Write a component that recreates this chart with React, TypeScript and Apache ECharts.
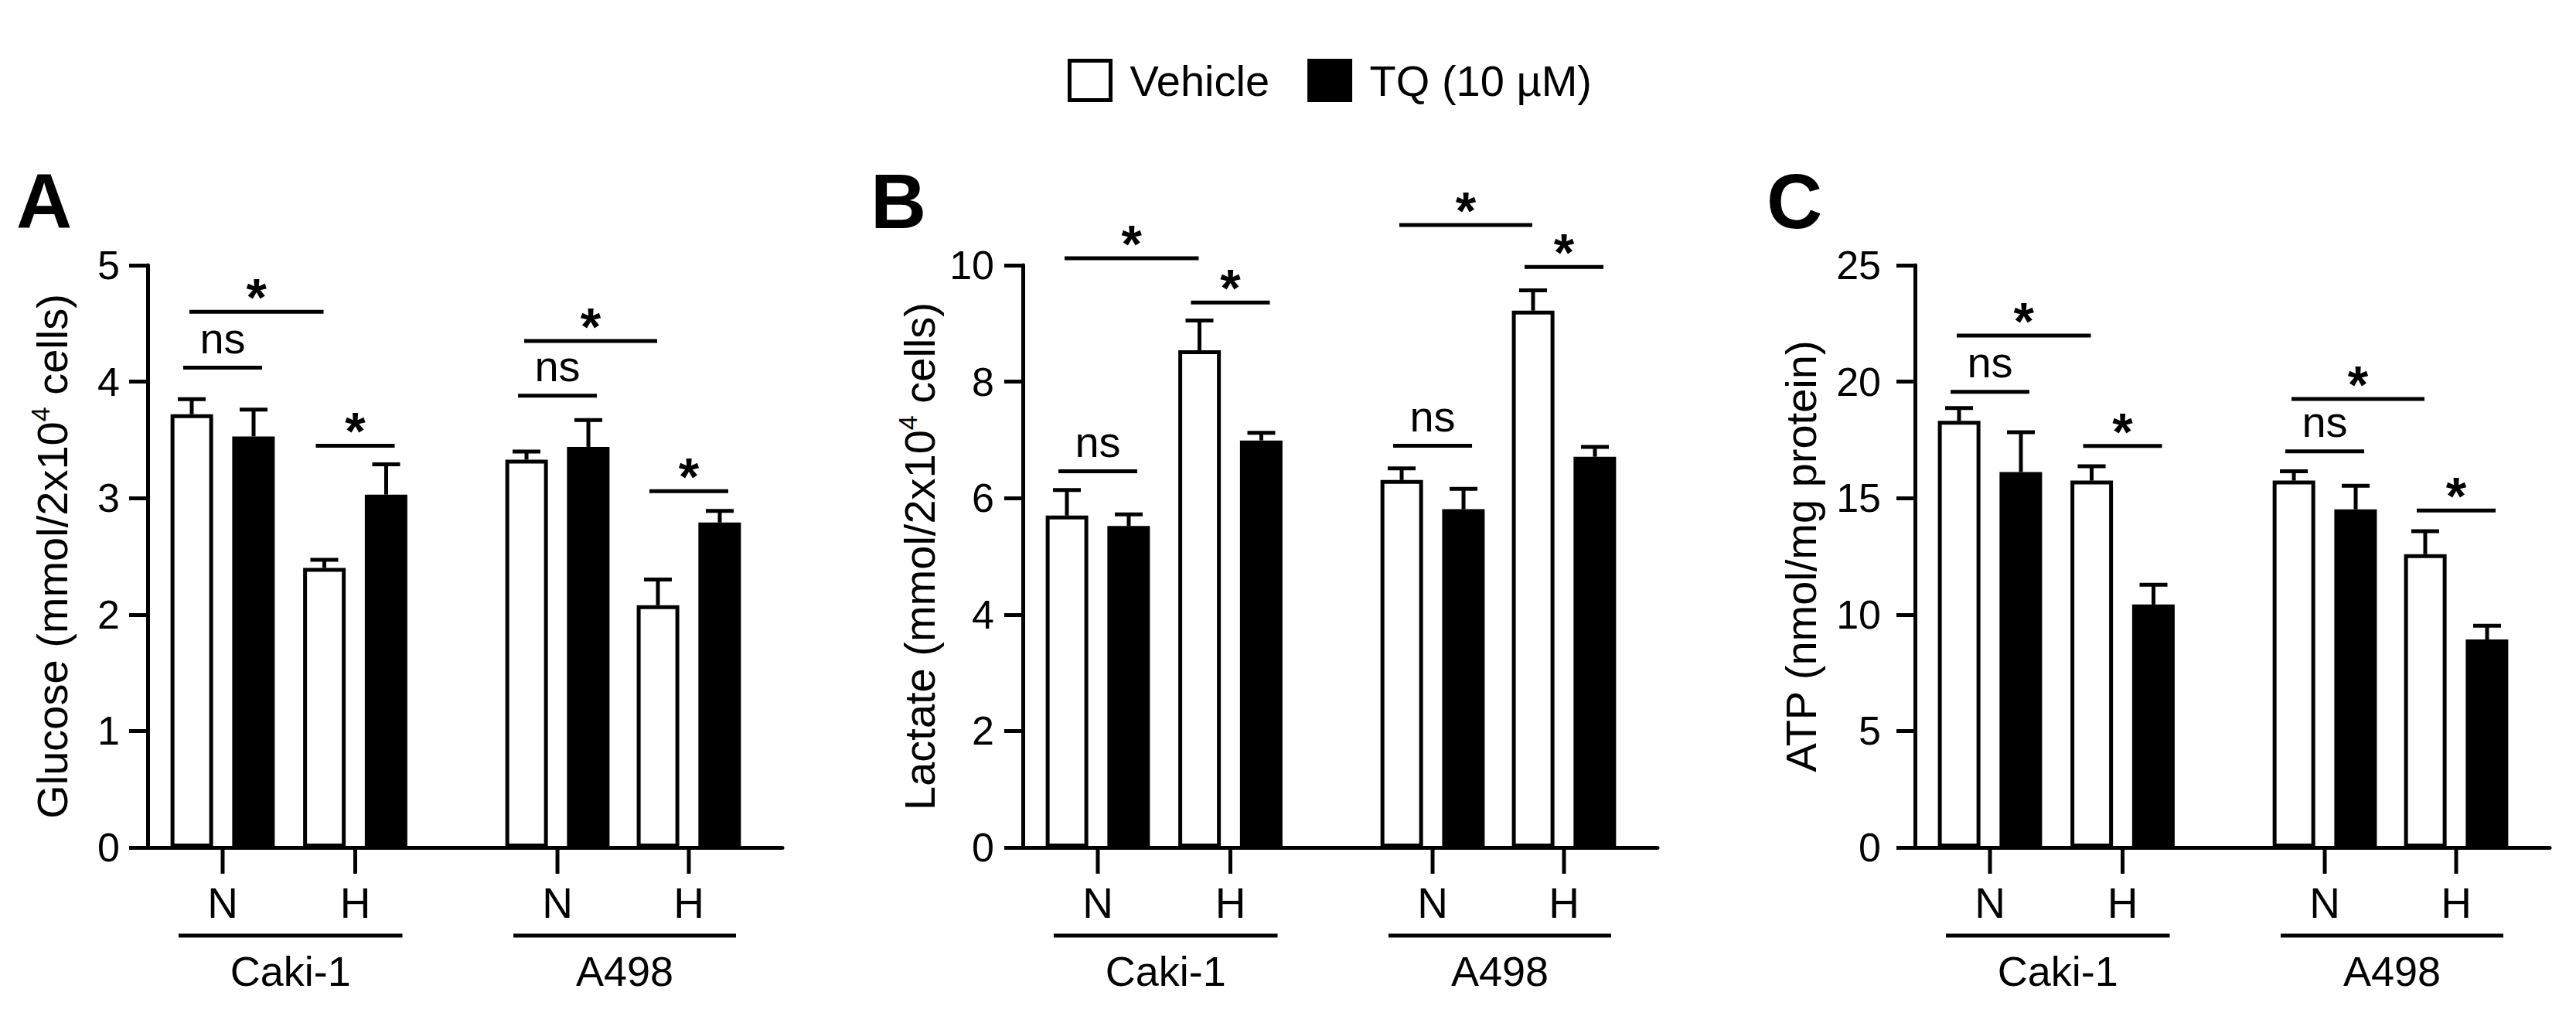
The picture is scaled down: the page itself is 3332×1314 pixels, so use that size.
import React, { useEffect, useRef } from "react";
import * as echarts from "echarts";

// ---------- data ----------
const SERIES_NAMES = ["Vehicle", "TQ (10 µM)"];
const CONDITIONS = ["N", "H", "N", "H"];
const CELL_LINES = ["Caki-1", "A498"];
const PANEL_LETTERS = ["A", "B", "C"];

const Y_MAX = [5, 10, 25];
const Y_STEP = [1, 2, 5];

// Glucose (mmol/2x10^4 cells)
const glucoseVehicle = [3.72, 2.4, 3.33, 2.08];
const glucoseVehicleErr = [0.13, 0.07, 0.07, 0.22];
const glucoseTQ = [3.53, 3.03, 3.44, 2.79];
const glucoseTQErr = [0.23, 0.26, 0.23, 0.1];

// Lactate (mmol/2x10^4 cells)
const lactateVehicle = [5.7, 8.54, 6.31, 9.22];
const lactateVehicleErr = [0.44, 0.51, 0.2, 0.35];
const lactateTQ = [5.52, 6.99, 5.81, 6.71];
const lactateTQErr = [0.2, 0.13, 0.35, 0.17];

// ATP (nmol/mg protein)
const atpVehicle = [18.32, 15.75, 15.75, 12.59];
const atpVehicleErr = [0.55, 0.62, 0.4, 0.99];
const atpTQ = [16.12, 10.43, 14.52, 8.93];
const atpTQErr = [1.71, 0.85, 1.01, 0.59];

// significance brackets: [category, series] -> [category, series]
const BRACKET_SPANS = [
  { from: [0, 0], to: [1, 0] },
  { from: [0, 0], to: [0, 1] },
  { from: [1, 0], to: [1, 1] },
  { from: [2, 0], to: [3, 0] },
  { from: [2, 0], to: [2, 1] },
  { from: [3, 0], to: [3, 1] },
];
const BRACKET_LABELS = ["*", "ns", "*", "*", "ns", "*"];
const glucoseBracketY = [4.6, 4.12, 3.45, 4.35, 3.88, 3.06];
const lactateBracketY = [10.12, 6.46, 9.36, 10.69, 6.9, 9.97];
const atpBracketY = [21.98, 19.56, 17.24, 19.26, 17.01, 14.47];

const PANELS = [
  {
    name: "{a|Glucose (mmol/2x10}{s|4}{a| cells)}",
    vehicle: glucoseVehicle,
    vehicleErr: glucoseVehicleErr,
    tq: glucoseTQ,
    tqErr: glucoseTQErr,
    brackets: glucoseBracketY,
  },
  {
    name: "{a|Lactate (mmol/2x10}{s|4}{a| cells)}",
    vehicle: lactateVehicle,
    vehicleErr: lactateVehicleErr,
    tq: lactateTQ,
    tqErr: lactateTQErr,
    brackets: lactateBracketY,
  },
  {
    name: "{a|ATP (nmol/mg protein)}",
    vehicle: atpVehicle,
    vehicleErr: atpVehicleErr,
    tq: atpTQ,
    tqErr: atpTQErr,
    brackets: atpBracketY,
  },
];

// ---------- layout ----------
const FONT = "'Liberation Sans', Arial, Helvetica, sans-serif";
const AXIS_X = [191, 1323, 2477];
const GRID_TOP = 343;
const GRID_H = 753;
const GRID_W = 821;
const CAT_POS = [0, 1, 2.525, 3.516];
const X_MIN = -0.5656;
const X_MAX = 4.2216;
const BAR_W = 55;
const BAR_OFF = 40;
const LABEL_MARGIN = [36, 37, 44];
const NAME_GAP = [92, 102, 116];
const LETTER_X = [21, 1126, 2285];

function buildOption() {
  const grid: any[] = [];
  const xAxis: any[] = [];
  const yAxis: any[] = [];
  const series: any[] = [];
  const graphic: any[] = [];

  PANELS.forEach((p, i) => {
    grid.push({ left: AXIS_X[i], top: GRID_TOP, width: GRID_W, height: GRID_H });
    xAxis.push({
      type: "value",
      gridIndex: i,
      min: X_MIN,
      max: X_MAX,
      axisLine: { show: true, onZero: false, lineStyle: { color: "#000", width: 5 } },
      axisTick: { show: false },
      axisLabel: { show: false },
      splitLine: { show: false },
    });
    yAxis.push({
      type: "value",
      gridIndex: i,
      min: 0,
      max: Y_MAX[i],
      interval: Y_STEP[i],
      name: p.name,
      nameLocation: "middle",
      nameGap: NAME_GAP[i],
      nameRotate: 90,
      nameTextStyle: {
        color: "#000",
        fontFamily: FONT,
        rich: {
          a: { fontSize: 56, lineHeight: 64, color: "#000", fontFamily: FONT },
          s: { fontSize: 34, lineHeight: 34, verticalAlign: "top", color: "#000", fontFamily: FONT },
        },
      },
      axisLine: { show: true, onZero: false, lineStyle: { color: "#000", width: 5 } },
      axisTick: { show: true, length: 24, lineStyle: { color: "#000", width: 5 } },
      axisLabel: { color: "#000", fontSize: 52, fontFamily: FONT, margin: LABEL_MARGIN[i] },
      splitLine: { show: false },
    });

    const bars = [p.vehicle, p.tq];
    const errs = [p.vehicleErr, p.tqErr];
    bars.forEach((vals, s) => {
      series.push({
        type: "bar",
        name: SERIES_NAMES[s],
        xAxisIndex: i,
        yAxisIndex: i,
        barWidth: BAR_W,
        barGap: "45%",
        z: 2,
        itemStyle: {
          color: s === 0 ? "#fff" : "#000",
          borderColor: "#000",
          borderWidth: 5,
        },
        data: vals.map((v, k) => [CAT_POS[k], v]),
      });
    });

    // error bars
    const errData: any[] = [];
    bars.forEach((vals, s) => {
      vals.forEach((v, k) => errData.push([CAT_POS[k], v, v + errs[s][k], s]));
    });
    series.push({
      type: "custom",
      xAxisIndex: i,
      yAxisIndex: i,
      z: 3,
      silent: true,
      clip: false,
      data: errData,
      renderItem: (params: any, api: any) => {
        const s = api.value(3);
        const base = api.coord([api.value(0), api.value(1)]);
        const top = api.coord([api.value(0), api.value(2)]);
        const x = base[0] + (s === 0 ? -BAR_OFF : BAR_OFF);
        return {
          type: "group",
          children: [
            { type: "line", shape: { x1: x, y1: base[1], x2: x, y2: top[1] }, style: { stroke: "#000", lineWidth: 5 } },
            { type: "line", shape: { x1: x - 18, y1: top[1], x2: x + 18, y2: top[1] }, style: { stroke: "#000", lineWidth: 5 } },
          ],
        };
      },
    });

    // significance brackets
    series.push({
      type: "custom",
      xAxisIndex: i,
      yAxisIndex: i,
      z: 4,
      silent: true,
      clip: false,
      data: p.brackets.map((y, b) => [CAT_POS[BRACKET_SPANS[b].from[0]], y]),
      renderItem: (params: any, api: any) => {
        const b = params.dataIndex;
        const span = BRACKET_SPANS[b];
        const y = api.value(1);
        const pair = span.from[0] === span.to[0];
        const c1 = api.coord([CAT_POS[span.from[0]], y]);
        const c2 = api.coord([CAT_POS[span.to[0]], y]);
        const x1 = c1[0] + (span.from[1] === 0 ? -BAR_OFF : BAR_OFF) + (pair ? -11 : -3);
        const x2 = c2[0] + (span.to[1] === 0 ? -BAR_OFF : BAR_OFF) + (pair ? 11 : -1);
        const label = BRACKET_LABELS[b];
        const isStar = label === "*";
        return {
          type: "group",
          children: [
            { type: "line", shape: { x1, y1: c1[1], x2, y2: c1[1] }, style: { stroke: "#000", lineWidth: 5 } },
            {
              type: "text",
              x: (x1 + x2) / 2,
              y: c1[1] - (isStar ? 19 : 38),
              style: {
                text: label,
                fill: "#000",
                fontSize: isStar ? 68 : 56,
                fontWeight: isStar ? "bold" : "normal",
                fontFamily: FONT,
                align: "center",
                verticalAlign: "middle",
              },
            },
          ],
        };
      },
    });

    // category ticks + N/H labels
    series.push({
      type: "custom",
      xAxisIndex: i,
      yAxisIndex: i,
      z: 4,
      silent: true,
      clip: false,
      data: CAT_POS.map((x) => [x, 0]),
      renderItem: (params: any, api: any) => {
        const pt = api.coord([api.value(0), 0]);
        return {
          type: "group",
          children: [
            { type: "line", shape: { x1: pt[0], y1: pt[1], x2: pt[0], y2: pt[1] + 34 }, style: { stroke: "#000", lineWidth: 5 } },
            {
              type: "text",
              x: pt[0],
              y: pt[1] + 72,
              style: {
                text: CONDITIONS[params.dataIndex],
                fill: "#000",
                fontSize: 55,
                fontFamily: FONT,
                align: "center",
                verticalAlign: "middle",
              },
            },
          ],
        };
      },
    });

    // cell-line group underlines + labels
    series.push({
      type: "custom",
      xAxisIndex: i,
      yAxisIndex: i,
      z: 4,
      silent: true,
      clip: false,
      data: CELL_LINES.map((_, g) => [CAT_POS[g * 2], CAT_POS[g * 2 + 1]]),
      renderItem: (params: any, api: any) => {
        const n = api.coord([api.value(0), 0]);
        const h = api.coord([api.value(1), 0]);
        return {
          type: "group",
          children: [
            { type: "line", shape: { x1: n[0] - 57, y1: n[1] + 114, x2: h[0] + 61, y2: n[1] + 114 }, style: { stroke: "#000", lineWidth: 5 } },
            {
              type: "text",
              x: (n[0] + h[0]) / 2 + 2,
              y: n[1] + 160,
              style: {
                text: CELL_LINES[params.dataIndex],
                fill: "#000",
                fontSize: 54,
                fontFamily: FONT,
                align: "center",
                verticalAlign: "middle",
              },
            },
          ],
        };
      },
    });

    graphic.push({
      type: "text",
      left: LETTER_X[i],
      top: 210,
      style: {
        text: PANEL_LETTERS[i],
        fill: "#000",
        fontSize: 100,
        fontWeight: "bold",
        fontFamily: FONT,
      },
    });
  });

  return {
    animation: false,
    backgroundColor: "#fff",
    legend: {
      left: 1376,
      top: 71,
      icon: "rect",
      itemWidth: 53,
      itemHeight: 51,
      itemGap: 49,
      selectedMode: false,
      textStyle: { color: "#000", fontSize: 56, fontFamily: FONT, padding: [0, 0, 0, 20] },
      data: [
        { name: SERIES_NAMES[0], itemStyle: { color: "#fff", borderColor: "#000", borderWidth: 5 } },
        { name: SERIES_NAMES[1], itemStyle: { color: "#000", borderColor: "#000", borderWidth: 5 } },
      ],
    },
    grid,
    xAxis,
    yAxis,
    series,
    graphic,
  };
}

export default function App() {
  const ref = useRef<HTMLDivElement>(null);
  useEffect(() => {
    if (!ref.current) return;
    const chart = echarts.init(ref.current, undefined, { renderer: "svg" });
    chart.setOption(buildOption());
    return () => chart.dispose();
  }, []);
  return (
    <div
      ref={ref}
      style={{ position: "fixed", left: 0, top: 0, width: 3332, height: 1314, background: "#fff" }}
    />
  );
}
